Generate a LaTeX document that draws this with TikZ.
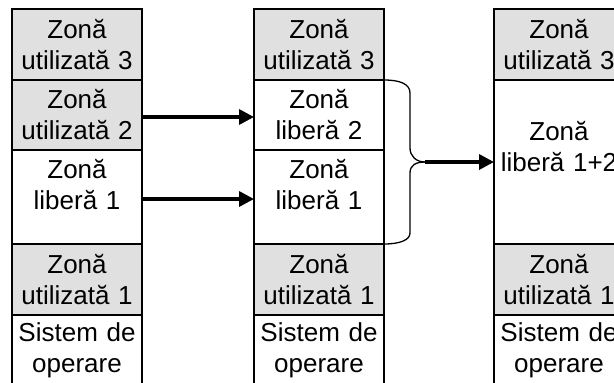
\documentclass[tikz,border=0pt]{standalone}
\usepackage{fontspec}
\setmainfont{Liberation Sans}
\usetikzlibrary{arrows.meta}
\definecolor{cellgray}{HTML}{E0E0E0}
\tikzset{
  cell/.style={draw=black,line width=1.5pt,minimum width=130pt,inner sep=0pt,outer sep=0pt,align=center,
    font=\fontsize{26}{31}\selectfont,anchor=north,text width=130pt},
  used/.style={cell,fill=cellgray},
  free/.style={cell,fill=white},
  h71/.style={minimum height=71pt},
  h70/.style={minimum height=70pt},
  h94/.style={minimum height=94pt},
  h164/.style={minimum height=164pt},
  moved/.style={line width=3.4pt,-{Triangle[length=15pt,width=15pt]}},
  brace/.style={line width=1.3pt},
}
\begin{document}
\begin{tikzpicture}[x=1pt,y=-1pt]
\useasboundingbox (0,0) rectangle (614,383);
\clip (0,0) rectangle (614,383);
% column 1
\node[used,h71] (a1) at (77,9) {Zonă\\utilizată 3};
\node[used,h70] (a2) at (77,80) {Zonă\\utilizată 2};
\node[free,h94] (a3) at (77,150) {Zonă\\liberă 1\\[-6pt] \ };
\node[used,h71] (a4) at (77,244) {Zonă\\utilizată 1};
\node[free,h71] (a5) at (77,315) {Sistem de\\operare};
% column 2
\node[used,h71] (b1) at (319,9) {Zonă\\utilizată 3};
\node[free,h70] (b2) at (319,80) {Zonă\\liberă 2};
\node[free,h94] (b3) at (319,150) {Zonă\\liberă 1\\[-6pt] \ };
\node[used,h71] (b4) at (319,244) {Zonă\\utilizată 1};
\node[free,h71] (b5) at (319,315) {Sistem de\\operare};
% column 3
\node[used,h71] (c1) at (559,9) {Zonă\\utilizată 3};
\node[free,h164] (c2) at (559,80) {Zonă\\liberă 1+2\\ \ };
\node[used,h71] (c4) at (559,244) {Zonă\\utilizată 1};
\node[free,h71] (c5) at (559,315) {Sistem de\\operare};
% connectors
\draw[moved] ([yshift=-2pt]a2.east) -- ([yshift=-2pt]b2.west);
\draw[moved] ([yshift=-2pt]a3.east) -- ([yshift=-2pt]b3.west);
\coordinate (join) at (425,162);
\draw[brace] (b2.north east) .. controls (400,80) and (410,84) .. (410,93) -- (410,148)
   .. controls (410,156) and (416,162) .. (join);
\draw[brace] (b3.south east) .. controls (400,244) and (410,240) .. (410,233) -- (410,173)
   .. controls (410,165) and (416,162) .. (join);
\draw[moved] (join) -- (c2.west);
\end{tikzpicture}
\end{document}
